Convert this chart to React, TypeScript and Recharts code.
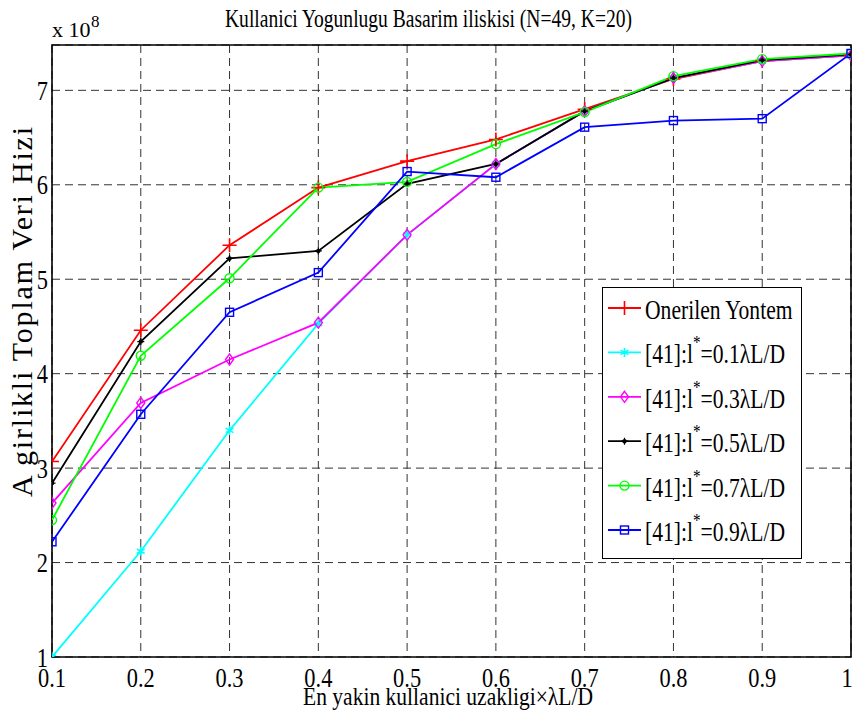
import React from "react";
import {
  LineChart,
  Line,
  XAxis,
  YAxis,
  CartesianGrid,
  ReferenceArea,
  Legend,
  Customized,
} from "recharts";

const FONT = "Liberation Serif, Times New Roman, serif";
const SX = 0.8;

// x: en yakin kullanici uzakligi (x lambda L/D)
const xValues = [0.1, 0.2, 0.3, 0.4, 0.5, 0.6, 0.7, 0.8, 0.9, 1.0];
const xTicks = [0.1, 0.2, 0.3, 0.4, 0.5, 0.6, 0.7, 0.8, 0.9, 1];
const yTicks = [1, 2, 3, 4, 5, 6, 7];

// values in units of 1e8
const onerilen = [3.07, 4.46, 5.36, 5.97, 6.25, 6.48, 6.8, 7.12, 7.31, 7.37];
const l01 = [1.0, 2.12, 3.4, 4.53, 5.47, 6.22, 6.78, 7.13, 7.31, 7.37];
const l03 = [2.63, 3.69, 4.15, 4.54, 5.47, 6.22, 6.78, 7.13, 7.31, 7.37];
const l05 = [2.84, 4.34, 5.22, 5.3, 6.01, 6.22, 6.78, 7.13, 7.32, 7.38];
const l07 = [2.45, 4.19, 5.01, 5.97, 6.03, 6.43, 6.77, 7.15, 7.33, 7.39];
const l09 = [2.22, 3.57, 4.65, 5.07, 6.14, 6.08, 6.61, 6.68, 6.7, 7.39];

const data = xValues.map((x, i) => ({
  x,
  onerilen: onerilen[i],
  l01: l01[i],
  l03: l03[i],
  l05: l05[i],
  l07: l07[i],
  l09: l09[i],
}));

type MarkerFn = (cx: number, cy: number, color: string, key?: string) => JSX.Element;

const plus: MarkerFn = (cx, cy, color, key) => (
  <path key={key} d={`M${cx - 7},${cy}H${cx + 7}M${cx},${cy - 7}V${cy + 7}`} stroke={color} strokeWidth={1.6} fill="none" />
);
const star: MarkerFn = (cx, cy, color, key) => {
  const r = 4.5;
  const a = r * 0.866;
  const b = r * 0.5;
  return (
    <path
      key={key}
      d={`M${cx},${cy - r}V${cy + r}M${cx - a},${cy - b}L${cx + a},${cy + b}M${cx - a},${cy + b}L${cx + a},${cy - b}`}
      stroke={color}
      strokeWidth={1.6}
      fill="none"
    />
  );
};
const diamond: MarkerFn = (cx, cy, color, key) => (
  <path key={key} d={`M${cx},${cy - 5.5}L${cx + 4},${cy}L${cx},${cy + 5.5}L${cx - 4},${cy}Z`} stroke={color} strokeWidth={1.4} fill="none" />
);
const point: MarkerFn = (cx, cy, color, key) => (
  <g key={key}>
    <path d={`M${cx - 3.5},${cy}H${cx + 3.5}M${cx},${cy - 3.5}V${cy + 3.5}`} stroke={color} strokeWidth={1.2} />
    <circle cx={cx} cy={cy} r={2.2} fill={color} />
  </g>
);
const circle: MarkerFn = (cx, cy, color, key) => (
  <circle key={key} cx={cx} cy={cy} r={4.5} stroke={color} strokeWidth={1.4} fill="none" />
);
const square: MarkerFn = (cx, cy, color, key) => (
  <rect key={key} x={cx - 4} y={cy - 4} width={8} height={8} stroke={color} strokeWidth={1.4} fill="none" />
);

const series = [
  { key: "onerilen", name: "Onerilen Yontem", color: "#ff0000", marker: plus },
  { key: "l01", name: "0.1", color: "#00ffff", marker: star },
  { key: "l03", name: "0.3", color: "#ff00ff", marker: diamond },
  { key: "l05", name: "0.5", color: "#000000", marker: point },
  { key: "l07", name: "0.7", color: "#00ff00", marker: circle },
  { key: "l09", name: "0.9", color: "#0000ff", marker: square },
];

const SText = ({ x, y, size, anchor = "start", children }: any) => (
  <g transform={`translate(${x},${y}) scale(${SX},1)`}>
    <text x={0} y={0} fontSize={size} fontFamily={FONT} fill="#000" textAnchor={anchor}>
      {children}
    </text>
  </g>
);

const XTick = ({ x, y, payload }: any) => (
  <SText x={payload.value === 1 ? x - 4 : x} y={y + 20} size={28} anchor="middle">
    {payload.value === 1 ? "1" : payload.value.toFixed(1)}
  </SText>
);

const YTick = ({ x, y, payload }: any) => (
  <SText x={x} y={y + 9.5} size={28} anchor="end">
    {payload.value}
  </SText>
);

const Labels = () => (
  <g>
    <text x={225} y={27} fontSize={26} fontFamily={FONT} fill="#000" textLength={407} lengthAdjust="spacingAndGlyphs">
      Kullanici Yogunlugu Basarim iliskisi (N=49, K=20)
    </text>
    <text x={52} y={37} fontSize={22} fontFamily={FONT} fill="#000">
      x 10
    </text>
    <text x={91} y={27} fontSize={17} fontFamily={FONT} fill="#000">
      8
    </text>
    <text x={303} y={705} fontSize={26} fontFamily={FONT} fill="#000" textLength={290} lengthAdjust="spacingAndGlyphs">
      En yakin kullanici uzakligi×λL/D
    </text>
    <text
      x={32}
      y={497}
      transform="rotate(-90 32 497)"
      fontSize={30}
      fontFamily={FONT}
      fill="#000"
      textLength={370}
      lengthAdjust="spacing"
    >
      A girlikli Toplam Veri Hizi
    </text>
  </g>
);

const LegendBox = () => (
  <svg width={201} height={273} style={{ display: "block" }}>
    <rect x={0.5} y={0.5} width={199} height={271} fill="#fff" stroke="#000" strokeWidth={1} />
    {series.map((s, i) => {
      const cy = 21 + i * 44.4;
      return (
        <g key={s.key}>
          <line x1={6} x2={39} y1={cy} y2={cy} stroke={s.color} strokeWidth={1.8} />
          {s.marker(22.5, cy, s.color)}
          {i === 0 ? (
            <SText x={43} y={cy + 11} size={27}>
              {s.name}
            </SText>
          ) : (
            <g transform={`translate(43,${cy + 11}) scale(${SX},1)`}>
              <text x={0} y={0} fontSize={27} fontFamily={FONT} fill="#000">
                [41]:l
                <tspan fontSize={19} dy={-14}>*</tspan>
                <tspan dy={14}>{`=${s.name}λL/D`}</tspan>
              </text>
            </g>
          )}
        </g>
      );
    })}
  </svg>
);

export default function App() {
  return (
    <div style={{ position: "absolute", left: 0, top: 0, background: "#fff" }}>
      <LineChart
        width={853}
        height={724}
        data={data}
        margin={{ top: 45, right: 2, left: 12, bottom: 37 }}
        style={{ background: "#fff" }}
      >
        <CartesianGrid stroke="#333" strokeDasharray="8 5" strokeWidth={1} />
        <XAxis
          dataKey="x"
          type="number"
          domain={[0.1, 1]}
          ticks={xTicks}
          interval={0}
          allowDataOverflow
          height={30}
          tickSize={0}
          tickMargin={10}
          axisLine={false}
          tickLine={false}
          tick={<XTick />}
        />
        <YAxis
          type="number"
          domain={[1, 7.48]}
          ticks={yTicks}
          interval={0}
          allowDataOverflow
          width={40}
          tickSize={0}
          tickMargin={4}
          axisLine={false}
          tickLine={false}
          tick={<YTick />}
        />
        <ReferenceArea x1={0.1} x2={1} y1={1} y2={7.48} fill="none" stroke="#000" strokeWidth={1.6} ifOverflow="visible" />
        {series.map((s) => (
          <Line
            key={s.key}
            type="linear"
            dataKey={s.key}
            name={s.name}
            stroke={s.color}
            strokeWidth={1.8}
            isAnimationActive={false}
            activeDot={false}
            dot={(p: any) =>
              p.cx == null || p.cy == null ? <g key={`${s.key}-${p.index}`} /> : s.marker(p.cx, p.cy, s.color, `${s.key}-${p.index}`)
            }
          />
        ))}
        <Legend
          layout="vertical"
          align="center"
          verticalAlign="middle"
          content={() => <LegendBox />}
          wrapperStyle={{ left: 602, top: 287, width: 201, height: 273 }}
        />
        <Customized component={Labels} />
      </LineChart>
    </div>
  );
}
